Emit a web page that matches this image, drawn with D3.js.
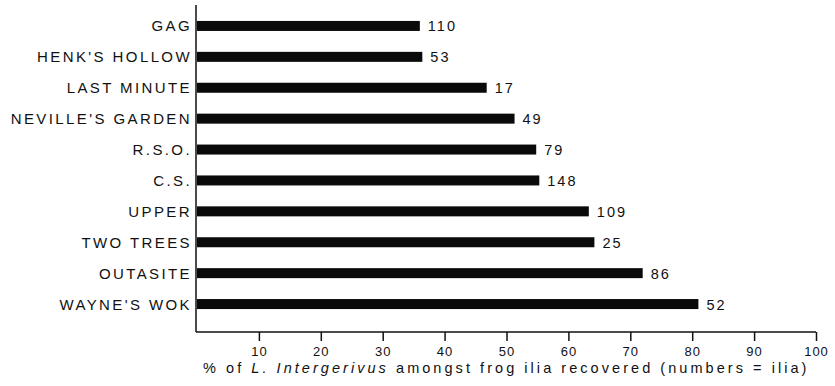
<!DOCTYPE html>
<html>
<head>
<meta charset="utf-8">
<script src="https://cdn.jsdelivr.net/npm/d3@7"></script>
<style>
  body { margin: 0; background: #fff; }
  text { font-family: "Liberation Sans", Arial, sans-serif; fill: #111; }
</style>
</head>
<body>
<div id="chart"></div>
<script>
// sites, top to bottom
const sites = [
  "GAG", "HENK'S HOLLOW", "LAST MINUTE", "NEVILLE'S GARDEN", "R.S.O.",
  "C.S.", "UPPER", "TWO TREES", "OUTASITE", "WAYNE'S WOK"
];
// % of L. intergerivus among frog ilia
const percents = [36.0, 36.4, 46.8, 51.3, 54.8, 55.3, 63.3, 64.2, 72.0, 81.0];
// number of ilia recovered
const counts = [110, 53, 17, 49, 79, 148, 109, 25, 86, 52];
const xTicks = [10, 20, 30, 40, 50, 60, 70, 80, 90, 100];

const width = 835, height = 386;
const margin = { top: 5, left: 196, right: 18, bottom: 54 };
const barHeight = 10;

const svg = d3.select("#chart").append("svg")
  .attr("width", width)
  .attr("height", height);

const x = d3.scaleLinear()
  .domain([0, 100])
  .range([margin.left + 1, margin.left + 1 + 619]);

const y = d3.scaleBand()
  .domain(sites)
  .range([10.5, 319.5]);

const data = sites.map((s, i) => ({ site: s, pct: percents[i], n: counts[i] }));

// bars
svg.selectAll("rect.bar")
  .data(data)
  .enter()
  .append("rect")
  .attr("class", "bar")
  .attr("x", x(0))
  .attr("y", (d) => y(d.site) + y.bandwidth() / 2 - barHeight / 2)
  .attr("width", (d) => x(d.pct) - x(0))
  .attr("height", barHeight)
  .attr("fill", "#0a0a0a");

// counts at bar ends
svg.selectAll("text.count")
  .data(data)
  .enter()
  .append("text")
  .attr("class", "count")
  .attr("x", (d) => x(d.pct) + 8)
  .attr("y", (d) => y(d.site) + y.bandwidth() / 2 + 5.5)
  .attr("font-size", 14.5)
  .attr("letter-spacing", 2)
  .text((d) => d.n);

// site labels
svg.selectAll("text.site")
  .data(data)
  .enter()
  .append("text")
  .attr("class", "site")
  .attr("x", 192)
  .attr("y", (d) => y(d.site) + y.bandwidth() / 2 + 5.5)
  .attr("text-anchor", "end")
  .attr("font-size", 15)
  .attr("letter-spacing", 2.4)
  .text((d) => d.site);

// axes
const axisY = 332;
svg.append("line")
  .attr("x1", margin.left).attr("x2", margin.left)
  .attr("y1", margin.top).attr("y2", axisY)
  .attr("stroke", "#111").attr("stroke-width", 1.5);

const xAxis = svg.append("g")
  .attr("transform", `translate(0,${axisY})`)
  .call(d3.axisBottom(x).tickValues(xTicks).tickSize(9).tickSizeOuter(0).tickPadding(6));

xAxis.select(".domain")
  .attr("d", `M${margin.left},0H${x(100)}`)
  .attr("stroke", "#111").attr("stroke-width", 1.5);
xAxis.selectAll(".tick line").attr("stroke", "#111").attr("stroke-width", 1.5);
xAxis.selectAll(".tick text")
  .attr("font-size", 13)
  .attr("font-family", "Liberation Sans, Arial, sans-serif")
  .attr("fill", "#111")
  .attr("letter-spacing", 1);

// axis title
const title = svg.append("text")
  .attr("x", 203)
  .attr("y", 373)
  .attr("font-size", 14.5)
  .attr("letter-spacing", 3.05);
title.append("tspan").text("% of ");
title.append("tspan").attr("font-style", "italic").text("L. Intergerivus");
title.append("tspan").text(" amongst frog ilia recovered (numbers = ilia)");
</script>
</body>
</html>
